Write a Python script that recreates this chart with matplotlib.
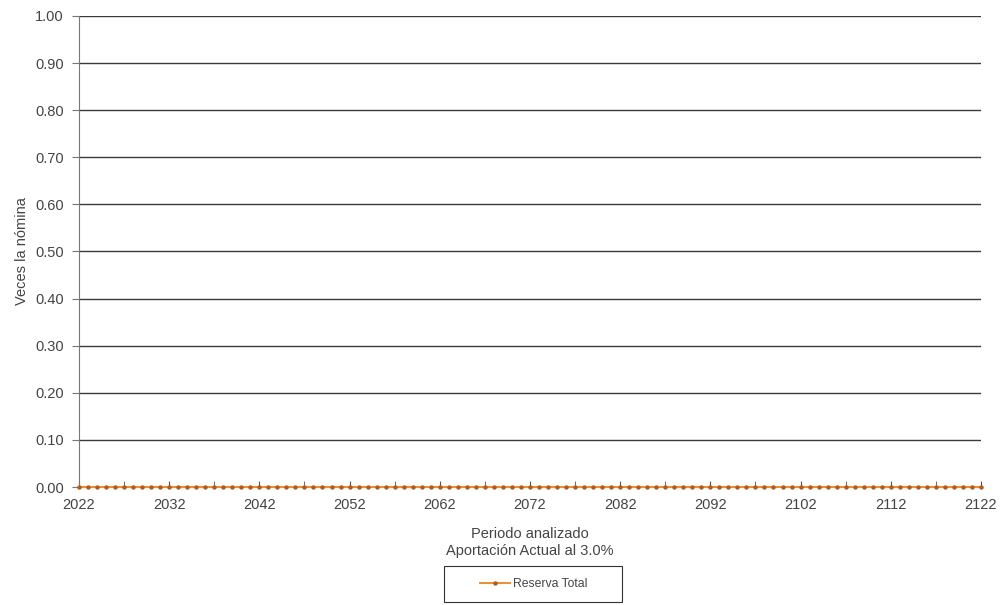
import matplotlib.pyplot as plt
from matplotlib.ticker import FixedLocator
from matplotlib.patches import Rectangle

# datos
anios = list(range(2022, 2123))
reserva_total = [0.0] * len(anios)
ticks_y = [0.0, 0.1, 0.2, 0.3, 0.4, 0.5, 0.6, 0.7, 0.8, 0.9, 1.0]

plt.rcParams['font.family'] = ['Liberation Sans', 'DejaVu Sans']
gris = '#444444'

fig = plt.figure(figsize=(10.02, 6.05), dpi=100)
ax = fig.add_axes([0.0788, 0.195, 0.9002, 0.7786])

ax.plot(anios, reserva_total, color='#f28c28', lw=1.4, marker='o', markersize=2.2,
        markerfacecolor='#b35a1f', markeredgecolor='#b35a1f', label='Reserva Total',
        clip_on=False, zorder=3)

ax.set_xlim(2022, 2122)
ax.set_ylim(0, 1.0)
ax.set_xticks(range(2022, 2123, 10))
ax.xaxis.set_minor_locator(FixedLocator(range(2027, 2123, 10)))
ax.set_yticks(ticks_y)
ax.set_yticklabels(['%.2f' % v for v in ticks_y])

ax.grid(axis='y', color='#3a3a3a', lw=1.0)
ax.set_axisbelow(True)
for s in ['top', 'right']:
    ax.spines[s].set_visible(False)
ax.spines['left'].set_color('#777777')
ax.spines['bottom'].set_color('#777777')
ax.tick_params(axis='y', length=5, color='#777777', labelsize=10.5, labelcolor=gris,
               direction='out', pad=6)
ax.tick_params(axis='x', which='both', length=4, color='#555555', labelsize=10.5,
               labelcolor=gris, direction='in', pad=8)

ax.set_ylabel('Veces la nómina', fontsize=10.5, color=gris, labelpad=4)
ax.set_xlabel('Periodo analizado\nAportación Actual al 3.0%', fontsize=10.5, color=gris,
              labelpad=11, linespacing=1.25)

# leyenda con marco propio (más ancho que el de matplotlib)
fig.patches.append(Rectangle((0.443, 0.005), 0.1776, 0.0595, transform=fig.transFigure,
                             fill=False, edgecolor='#333333', lw=0.8))
leg = fig.legend(loc='center', bbox_to_anchor=(0.533, 0.0347), fontsize=8.8, frameon=False,
                 handlelength=2.4, handletextpad=0.3, borderaxespad=0)
for t in leg.get_texts():
    t.set_color(gris)

fig.savefig('out.png', dpi=100)
